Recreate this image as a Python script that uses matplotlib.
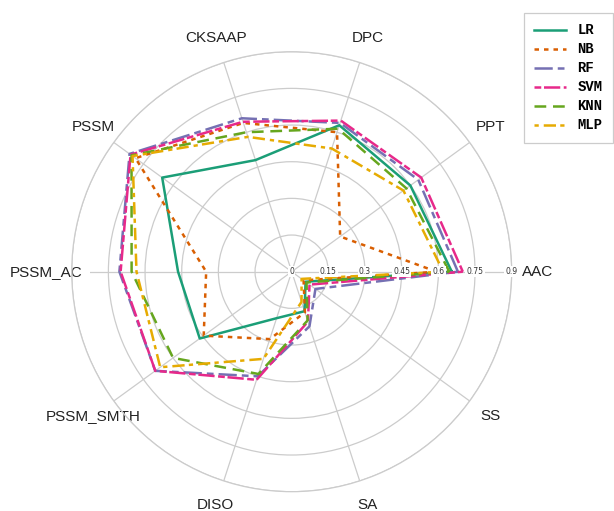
import numpy as np
import matplotlib
matplotlib.use("Agg")
import matplotlib.pyplot as plt

# feature groups around the radar, counter-clockwise from 0 deg
features = ["AAC", "PPT", "DPC", "CKSAAP", "PSSM", "PSSM_AC",
            "PSSM_SMTH", "DISO", "SA", "SS"]

# scores per classifier
lr = [0.655, 0.60, 0.63, 0.48, 0.655, 0.465, 0.465, 0.20, 0.17, 0.07]
nb = [0.593, 0.245, 0.60, 0.64, 0.79, 0.35, 0.445, 0.29, 0.175, 0.06]
rf = [0.68, 0.64, 0.64, 0.66, 0.82, 0.705, 0.69, 0.45, 0.235, 0.12]
svm = [0.70, 0.655, 0.65, 0.645, 0.815, 0.70, 0.69, 0.465, 0.215, 0.09]
knn = [0.645, 0.58, 0.615, 0.60, 0.81, 0.655, 0.60, 0.44, 0.21, 0.075]
mlp = [0.62, 0.565, 0.53, 0.58, 0.805, 0.635, 0.665, 0.375, 0.13, 0.05]

models = ["LR", "NB", "RF", "SVM", "KNN", "MLP"]
scores = [lr, nb, rf, svm, knn, mlp]

rticks = [0, 0.15, 0.3, 0.45, 0.6, 0.75, 0.9]
rtick_labels = ["0", "0.15", "0.3", "0.45", "0.6", "0.75", "0.9"]

#---- styles -------------------------------------------
colors = ["#1b9e77", "#d95f02", "#7570b3", "#e7298a", "#66a61e", "#e6ab02"]
dashes = [None,
          (0, (1.8, 2.0)),
          (0, (7.3, 2.0, 2.7, 2.0)),
          (0, (2.7, 1.1, 6.5, 1.4)),
          (0, (4.7, 2.7)),
          (0, (1.7, 2.0, 4.9, 1.7))]

fig = plt.figure(figsize=(6.14, 5.11), dpi=100)
ax = fig.add_axes([0.1168, 0.0378, 0.7166, 0.861], projection="polar")

angles = np.linspace(0, 2 * np.pi, len(features), endpoint=False)
closed = np.concatenate([angles, angles[:1]])

for name, vals, col, ds in zip(models, scores, colors, dashes):
    v = np.concatenate([vals, vals[:1]])
    line, = ax.plot(closed, v, color=col, lw=1.8, label=name)
    if ds is not None:
        line.set_linestyle(ds)

ax.set_ylim(0, 0.9)
ax.set_yticks(rticks)
ax.set_yticklabels([])

ax.set_xticks(angles)
ax.set_xticklabels(features, fontsize=11, family="Liberation Sans", color="#222222")
ax.tick_params(axis="x", pad=8.1)
for lbl in ax.get_xticklabels():
    lbl.set_bbox(dict(boxstyle="square,pad=0.5", facecolor="white", edgecolor="none"))

# radial tick labels sit right on the 0 deg spoke
for r, txt in zip(rticks, rtick_labels):
    ax.text(0, r, txt, fontsize=5.5, color="#333333", ha="center", va="center",
            bbox=dict(facecolor="white", edgecolor="none", pad=0.8), zorder=2.6)

ax.grid(color="#cccccc", lw=0.9)
ax.spines["polar"].set_color("#cccccc")
ax.spines["polar"].set_linewidth(0.9)

leg = ax.legend(loc="upper right", bbox_to_anchor=(613 / 614, 1 - 13 / 511),
                bbox_transform=fig.transFigure, borderaxespad=0,
                prop={"family": "Liberation Mono", "weight": "bold", "size": 10},
                fancybox=False, edgecolor="#cccccc", framealpha=1,
                handlelength=2.3, handletextpad=0.8, labelspacing=0.36,
                borderpad=0.75)
leg.get_frame().set_linewidth(0.9)

fig.savefig("out.png", dpi=100)
